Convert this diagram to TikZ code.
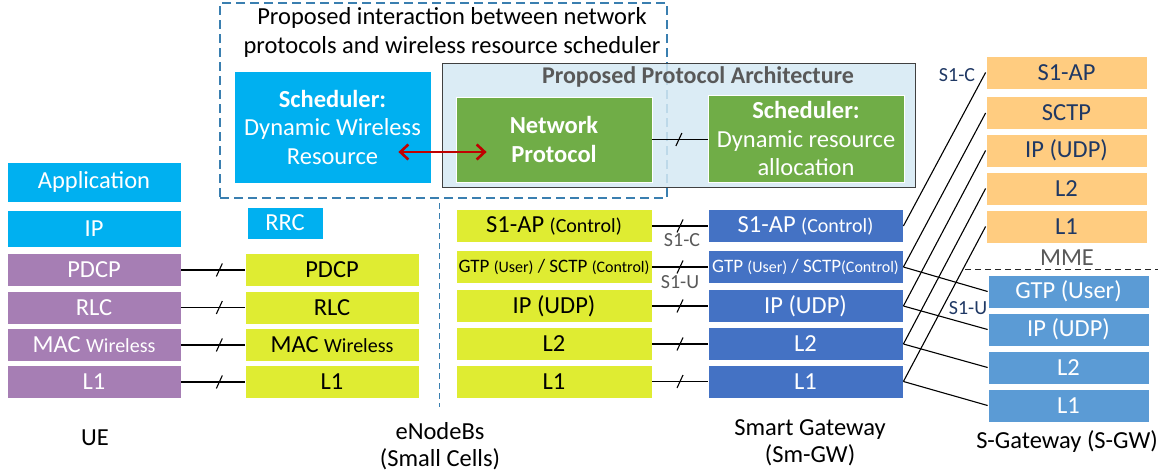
\documentclass[tikz,border=0pt]{standalone}
\usepackage{fontspec}
\setmainfont{Carlito}
\usetikzlibrary{arrows.meta,decorations.markings}
\definecolor{cyanb}{HTML}{00B0F0}
\definecolor{purp}{HTML}{A67EB4}
\definecolor{ylw}{HTML}{DFEC32}
\definecolor{smblue}{HTML}{4472C4}
\definecolor{sgblue}{HTML}{5B9BD5}
\definecolor{orng}{HTML}{FFCC80}
\definecolor{grn}{HTML}{70AD47}
\definecolor{lblue}{HTML}{D5E9F3}
\definecolor{dashblue}{HTML}{3A7FB0}
\definecolor{navy}{HTML}{1F3864}
\definecolor{gtxt}{HTML}{595959}
\definecolor{redarr}{HTML}{C00000}
\newcommand\fsz[2]{\fontsize{#1}{#2}\selectfont}
\tikzset{
  layer/.style={rectangle, inner sep=0pt, minimum height=33pt, draw=white, line width=0.8pt, font=\fsz{24.5}{28}},
  uetop/.style={layer, fill=cyanb, text=white, minimum width=174pt},
  uestack/.style={layer, fill=purp, text=white, minimum width=174pt},
  enbstack/.style={layer, fill=ylw, text=black, minimum width=174pt},
  s1stack/.style={layer, fill=ylw, text=black, minimum width=196pt},
  smstack/.style={layer, fill=smblue, text=white, minimum width=195pt},
  mmestack/.style={layer, fill=orng, text=navy, minimum width=161pt},
  sgwstack/.style={layer, fill=sgblue, text=white, minimum width=161pt},
  bigbox/.style={rectangle, inner sep=0pt, draw=white, line width=0.8pt, text=white, align=center, font=\fsz{24.5}{28.5}},
  conn/.style={draw=black, line width=1.1pt},
  cutline/.style={decoration={markings, mark=at position #1 with {\draw[line width=1.1pt] (-3pt,-6.5pt) -- (3pt,6.5pt);}}, postaction=decorate},
  cutline/.default=0.5,
  caption/.style={font=\fsz{24.5}{27.5}, align=center, text=black},
  glabel/.style={font=\fsz{20}{22}, text=gtxt},
  nlabel/.style={font=\fsz{20}{22}, text=navy},
}
\begin{document}
\begin{tikzpicture}[x=1pt,y=-1pt]
\useasboundingbox (0,0) rectangle (1164,474);

% ---- proposed interaction (dashed) box
\node[draw=dashblue, dash pattern=on 9pt off 5pt, line width=1.4pt, minimum width=447pt, minimum height=195pt, inner sep=0pt] (inter) at (443.5,100.5) {};
\node[font=\fsz{24.5}{29}, align=center] (intertitle) at (452,32.5) {Proposed interaction between network\\protocols and wireless resource scheduler};
\coordinate (vtop) at (439,203);
\coordinate (vbot) at (439,407);
\draw[dashblue, dash pattern=on 6pt off 4pt, line width=1pt] (vtop) -- (vbot);

% ---- scheduler (wireless)
\node[bigbox, fill=cyanb, minimum width=197pt, minimum height=112pt] (sched) at (332.5,127) {\textbf{Scheduler:}\\Dynamic Wireless\\Resource};

% ---- proposed protocol architecture
\node[fill=lblue, fill opacity=0.85, draw=black!75, line width=1pt, minimum width=473pt, minimum height=124pt, inner sep=0pt] (arch) at (678.5,125) {};
\node[text=gtxt, font=\bfseries\fsz{24}{26}] (archtitle) at (698,77) {Proposed Protocol Architecture};
\node[bigbox, fill=grn, minimum width=196pt, minimum height=85pt, font=\bfseries\fsz{24.5}{29.5}] (netp) at (554,139.5) {Network\\Protocol};
\node[bigbox, fill=grn, minimum width=196pt, minimum height=87pt] (sched2) at (806,138.5) {\textbf{Scheduler:}\\Dynamic resource\\allocation};
\draw[conn, cutline=0.48] (netp.east) -- (netp.east -| sched2.west);
\draw[redarr, line width=2.6pt, {Straight Barb[length=8pt,width=15pt]}-{Straight Barb[length=8pt,width=15pt]}] ([shift={(-33pt,-25pt)}]sched.east) -- ([shift={(31pt,-12.5pt)}]netp.west);

% ---- UE
\node[uetop, minimum height=40pt] (ueapp) at (94,182) {Application};
\node[uetop, minimum height=37pt] (ueip) at (94,228.5) {IP};
\node[uestack] (uepdcp) at (94,270) {PDCP};
\node[uestack] (uerlc) at (94,307.5) {RLC};
\node[uestack] (uemac) at (94,345) {MAC {\fsz{20}{22}Wireless}};
\node[uestack] (uel1) at (94,382) {L1};

% ---- eNodeB
\node[uetop, minimum width=76pt, minimum height=32pt] (rrc) at (285,223) {RRC};
\node[enbstack] (enbpdcp) at (332,270) {PDCP};
\node[enbstack] (enbrlc) at (332,307.5) {RLC};
\node[enbstack] (enbmac) at (332,345) {MAC {\fsz{20}{22}Wireless}};
\node[enbstack] (enbl1) at (332,382) {L1};

\draw[conn, cutline=0.6] (uepdcp.east) -- (enbpdcp.west);
\draw[conn, cutline=0.6] (uerlc.east) -- (enbrlc.west);
\draw[conn, cutline=0.6] (uemac.east) -- (enbmac.west);
\draw[conn, cutline=0.6] (uel1.east) -- (enbl1.west);

\node[s1stack] (enbs1ap) at (554,226) {S1-AP {\fsz{20}{22}(Control)}};
\node[s1stack, font=\fsz{19}{22}] (enbgtp) at (554,267) {GTP {\fsz{16}{20}(User)} / SCTP {\fsz{16}{20}(Control)}};
\node[s1stack] (enbip) at (554,306) {IP (UDP)};
\node[s1stack] (enbl2) at (554,344) {L2};
\node[s1stack] (enbl1b) at (554,381.5) {L1};

% ---- Smart gateway
\node[smstack] (sms1ap) at (805.5,226) {S1-AP {\fsz{20}{22}(Control)}};
\node[smstack, font=\fsz{19}{22}] (smgtp) at (805.5,267) {GTP {\fsz{16}{20}(User)} / SCTP{\fsz{16}{20}(Control)}};
\node[smstack] (smip) at (805.5,306) {IP (UDP)};
\node[smstack] (sml2) at (805.5,344) {L2};
\node[smstack] (sml1) at (805.5,381.5) {L1};

\draw[conn, cutline] (enbs1ap.east) -- (sms1ap.west);
\draw[conn, cutline] (enbgtp.east) -- (smgtp.west);
\draw[conn, cutline] (enbip.east) -- (smip.west);
\draw[conn, cutline] (enbl2.east) -- (sml2.west);
\draw[conn, cutline] (enbl1b.east) -- (sml1.west);
\node[glabel] (s1cg) at (682,240) {S1-C};
\node[glabel] (s1ug) at (680,282) {S1-U};

% ---- MME
\node[mmestack] (mmes1ap) at (1066.5,72.5) {S1-AP};
\node[mmestack] (mmesctp) at (1066.5,113) {SCTP};
\node[mmestack] (mmeip) at (1066.5,150.5) {IP (UDP)};
\node[mmestack] (mmel2) at (1066.5,188.5) {L2};
\node[mmestack] (mmel1) at (1066.5,226.5) {L1};
\node[font=\fsz{24.5}{26}, text=gtxt] (mmelab) at (1067,258) {MME};
\coordinate (md1) at (965,269);
\coordinate (md2) at (1158,269);
\draw[black!85, dash pattern=on 6pt off 4pt, line width=1pt] (md1) -- (md2);

% ---- S-GW
\node[sgwstack] (sggtp) at (1068.5,291.5) {GTP (User)};
\node[sgwstack] (sgip) at (1068.5,329.5) {IP (UDP)};
\node[sgwstack] (sgl2) at (1068.5,367.5) {L2};
\node[sgwstack] (sgl1) at (1068.5,405.5) {L1};

\draw[conn] (sms1ap.east) -- (mmes1ap.west);
\draw[conn] (smgtp.east) -- (mmesctp.west);
\draw[conn] (smgtp.east) -- (sggtp.west);
\draw[conn] (smip.east) -- (mmeip.west);
\draw[conn] (smip.east) -- (sgip.west);
\draw[conn] (sml2.east) -- (mmel2.west);
\draw[conn] (sml2.east) -- (sgl2.west);
\draw[conn] (sml1.east) -- (mmel1.west);
\draw[conn] (sml1.east) -- (sgl1.west);
\node[nlabel] (s1cn) at (957,75) {S1-C};
\node[nlabel] (s1un) at (968,308) {S1-U};

% ---- captions
\node[caption] (uelab) at (95,438) {UE};
\node[caption] (enblab) at (440,446) {eNodeBs\\(Small Cells)};
\node[caption] (smlab) at (810,442.5) {Smart Gateway\\(Sm-GW)};
\node[caption] (sglab) at (1067,442) {S-Gateway (S-GW)};
\end{tikzpicture}
\end{document}
